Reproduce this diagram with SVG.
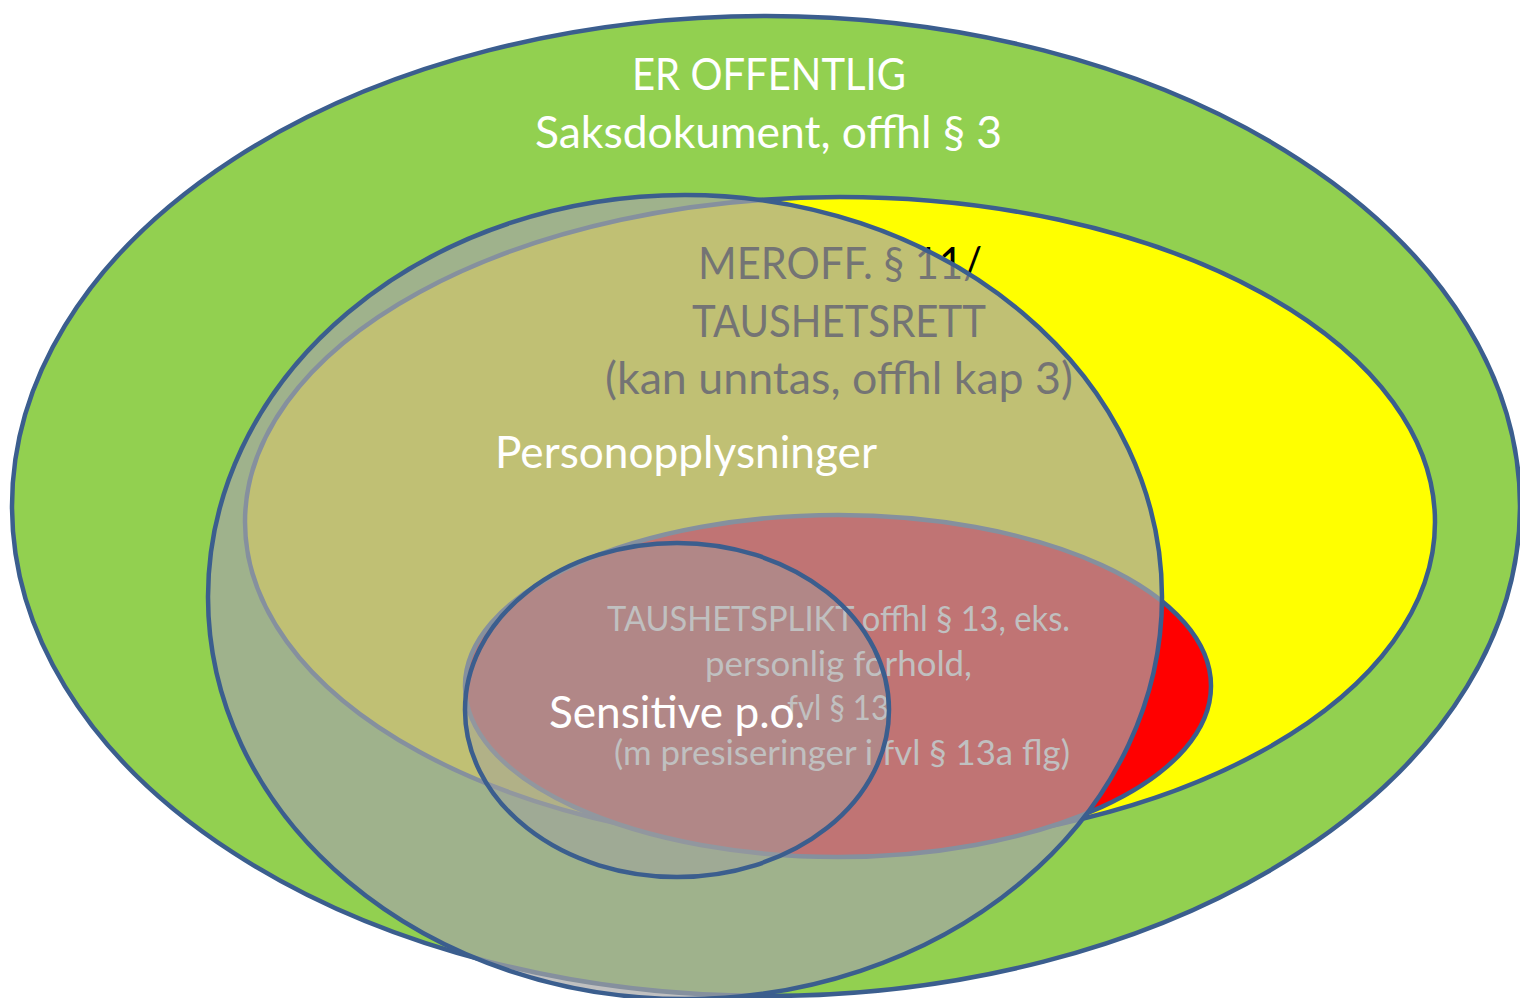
<svg xmlns="http://www.w3.org/2000/svg" width="1520" height="998" viewBox="0 0 1520 998">
  <style>
    .shape { stroke: #3B5E8E; stroke-width: 4.5; }
    .lbl { font-family: Lato, "Open Sans", "Liberation Sans", sans-serif; }
    .big { font-size: 44px; }
    .small { font-size: 34px; }
  </style>
  <rect width="1520" height="998" fill="#FFFFFF"/>
  <g id="connectors"/>
  <g id="node-offentlig">
    <ellipse class="shape" cx="766" cy="506" rx="754" ry="490" fill="#92D050"/>
    <text class="lbl big" fill="#FFFFFF" x="632" y="90" textLength="274" lengthAdjust="spacingAndGlyphs">ER OFFENTLIG</text>
    <text class="lbl big" fill="#FFFFFF" x="535" y="148" textLength="467" lengthAdjust="spacingAndGlyphs">Saksdokument, offhl § 3</text>
  </g>
  <g id="node-taushetsrett">
    <ellipse class="shape" cx="840" cy="522" rx="595" ry="325" fill="#FFFF00"/>
    <text class="lbl big" fill="#000000" x="698" y="279" textLength="284" lengthAdjust="spacingAndGlyphs">MEROFF. § 11/</text>
    <text class="lbl big" fill="#000000" x="692" y="337" textLength="294" lengthAdjust="spacingAndGlyphs">TAUSHETSRETT</text>
    <text class="lbl big" fill="#000000" x="605" y="394" textLength="468" lengthAdjust="spacingAndGlyphs">(kan unntas, offhl kap 3)</text>
  </g>
  <g id="node-taushetsplikt">
    <ellipse class="shape" cx="838" cy="686" rx="373" ry="171" fill="#FF0000"/>
  </g>
  <g id="node-personopplysninger">
    <ellipse cx="685" cy="597" rx="477" ry="402" fill="#A5A5A5" fill-opacity="0.7"/>
    <ellipse class="shape" cx="685" cy="597" rx="477" ry="402" fill="none"/>
    <text class="lbl big" fill="#FFFFFF" x="495" y="468" textLength="382" lengthAdjust="spacingAndGlyphs">Personopplysninger</text>
  </g>
  <g id="node-sensitive">
    <ellipse cx="677" cy="710" rx="212" ry="167" fill="#A0A0A0" fill-opacity="0.45"/>
    <g id="label-taushetsplikt" class="lbl small" fill="#C0C0C0">
      <text x="607" y="631" textLength="463" lengthAdjust="spacingAndGlyphs">TAUSHETSPLIKT offhl § 13, eks.</text>
      <text x="705" y="676" textLength="267" lengthAdjust="spacingAndGlyphs">personlig forhold,</text>
      <text x="787" y="720" textLength="102" lengthAdjust="spacingAndGlyphs">fvl § 13</text>
      <text x="614" y="765" textLength="456" lengthAdjust="spacingAndGlyphs">(m presiseringer i fvl § 13a flg)</text>
    </g>
    <ellipse class="shape" cx="677" cy="710" rx="212" ry="167" fill="none"/>
    <text class="lbl big" fill="#FFFFFF" x="549" y="728" textLength="256" lengthAdjust="spacingAndGlyphs">Sensitive p.o.</text>
  </g>
</svg>
